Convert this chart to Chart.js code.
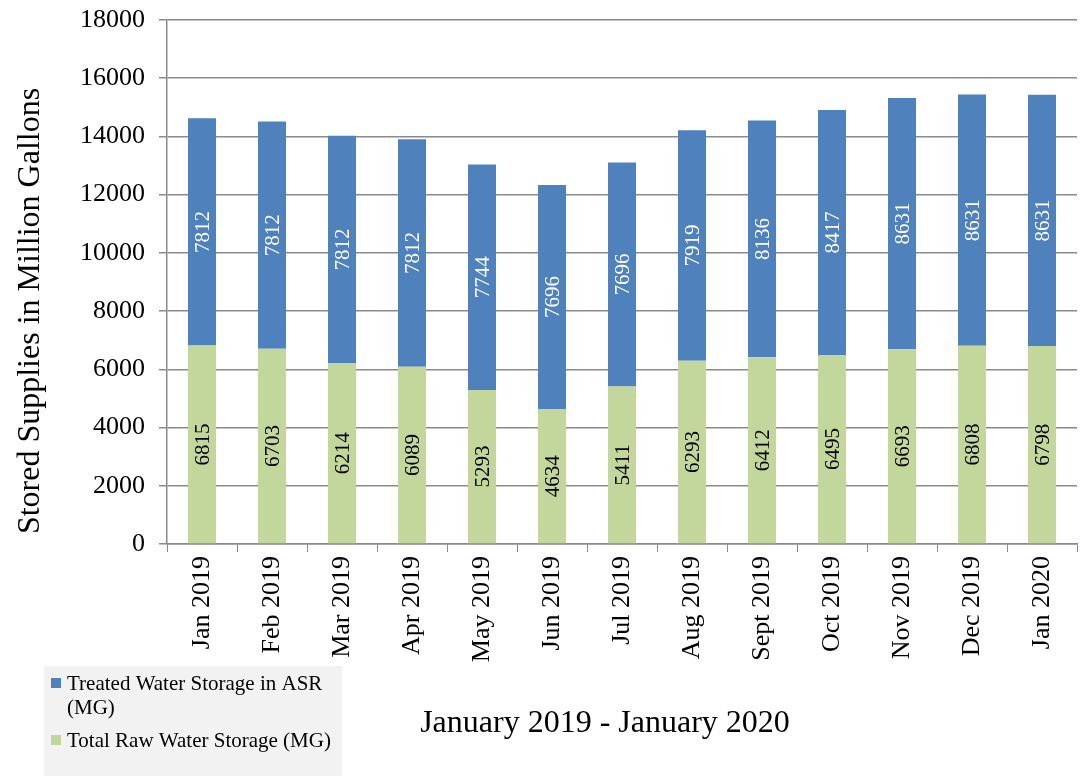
<!DOCTYPE html>
<html>
<head>
<meta charset="utf-8">
<script src="https://cdn.jsdelivr.net/npm/chart.js@4/dist/chart.umd.min.js"></script>
<style>
  html, body { margin: 0; padding: 0; background: #fff; }
  #wrap { width: 1083px; height: 776px; position: relative; }
</style>
</head>
<body>
<div id="wrap"><canvas id="storageChart" width="1083" height="776"></canvas></div>
<script>
// monthly storage, million gallons
const months = ['Jan 2019', 'Feb 2019', 'Mar 2019', 'Apr 2019', 'May 2019', 'Jun 2019', 'Jul 2019',
    'Aug 2019', 'Sept 2019', 'Oct 2019', 'Nov 2019', 'Dec 2019', 'Jan 2020'];
const rawStorage = [6815, 6703, 6214, 6089, 5293, 4634, 5411, 6293, 6412, 6495, 6693, 6808, 6798];
const treatedASR = [7812, 7812, 7812, 7812, 7744, 7696, 7696, 7919, 8136, 8417, 8631, 8631, 8631];
const yTicks = [0, 2000, 4000, 6000, 8000, 10000, 12000, 14000, 16000, 18000];

const serif = "'Liberation Serif', 'Times New Roman', serif";
const gridGrey = '#8a8a8a';

// values written sideways in the middle of each bar segment
const barLabels = {
    id: 'barLabels',
    afterDatasetsDraw(chart) {
        const ctx = chart.ctx;
        chart.data.datasets.forEach(function (ds, i) {
            const meta = chart.getDatasetMeta(i);
            meta.data.forEach(function (bar, j) {
                const midY = (bar.y + bar.base) / 2;
                ctx.save();
                ctx.translate(bar.x, midY);
                ctx.rotate(-Math.PI / 2);
                ctx.font = '21px ' + serif;
                ctx.fillStyle = ds.labelColor;
                ctx.textAlign = 'center';
                ctx.textBaseline = 'middle';
                ctx.fillText(String(ds.data[j]), 0, 1);
                ctx.restore();
            });
        });
    }
};

// axis titles and the boxed legend in the lower left
const extras = {
    id: 'extras',
    afterDraw(chart) {
        const ctx = chart.ctx;
        ctx.save();
        ctx.fillStyle = '#000';
        ctx.font = '32px ' + serif;
        ctx.textAlign = 'center';
        ctx.textBaseline = 'middle';
        ctx.fillText('January 2019 - January 2020', 605, 724);

        ctx.translate(31, 311);
        ctx.rotate(-Math.PI / 2);
        ctx.fillText('Stored Supplies in Million Gallons', 0, 0);
        ctx.restore();

        ctx.save();
        ctx.fillStyle = '#f2f2f2';
        ctx.fillRect(44, 666, 298, 110);
        const ds = chart.data.datasets;
        ctx.font = '21px ' + serif;
        ctx.textBaseline = 'alphabetic';
        ctx.textAlign = 'left';
        ctx.fillStyle = ds[1].backgroundColor;
        ctx.fillRect(51, 678, 10, 10);
        ctx.fillStyle = '#000';
        ctx.fillText('Treated Water Storage in ASR', 67, 690);
        ctx.fillText('(MG)', 67, 714);
        ctx.fillStyle = ds[0].backgroundColor;
        ctx.fillRect(51, 735, 10, 10);
        ctx.fillStyle = '#000';
        ctx.fillText(ds[0].label, 67, 747);
        ctx.restore();
    }
};

new Chart(document.getElementById('storageChart').getContext('2d'), {
    type: 'bar',
    data: {
        labels: months,
        datasets: [{
            label: 'Total Raw Water Storage (MG)',
            data: rawStorage,
            backgroundColor: '#c3d69b',
            labelColor: '#000'
        }, {
            label: 'Treated Water Storage in ASR (MG)',
            data: treatedASR,
            backgroundColor: '#4f81bd',
            labelColor: '#fff'
        }]
    },
    options: {
        responsive: false,
        animation: false,
        layout: { padding: { left: 0, right: 6, top: 20, bottom: 0 } },
        datasets: { bar: { categoryPercentage: 0.8, barPercentage: 0.5 } },
        plugins: {
            legend: { display: false },
            tooltip: { enabled: false }
        },
        scales: {
            x: {
                stacked: true,
                grid: { display: true, drawOnChartArea: false, drawTicks: true, tickLength: 8, color: gridGrey, offset: true },
                border: { color: gridGrey, width: 1.5 },
                ticks: {
                    color: '#000',
                    font: { family: serif, size: 26 },
                    minRotation: 90,
                    maxRotation: 90,
                    padding: 4
                },
                afterFit(scale) { scale.height = 232; }
            },
            y: {
                stacked: true,
                min: 0,
                max: 18000,
                afterBuildTicks(scale) { scale.ticks = yTicks.map(v => ({ value: v })); },
                grid: { color: gridGrey, lineWidth: 1.5, tickLength: 8 },
                border: { color: gridGrey, width: 1.5 },
                ticks: {
                    color: '#000',
                    font: { family: serif, size: 26 },
                    padding: 14,
                    callback: v => String(v)
                },
                afterFit(scale) {
                    scale.width = 167;
                    scale.paddingTop = 0;
                    scale.paddingBottom = 0;
                }
            }
        }
    },
    plugins: [barLabels, extras]
});
</script>
</body>
</html>
